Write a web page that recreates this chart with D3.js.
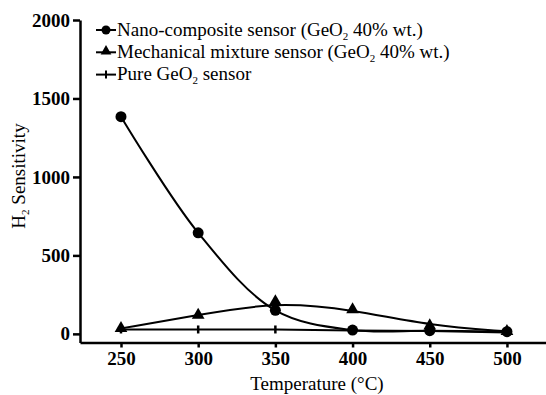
<!DOCTYPE html>
<html>
<head>
<meta charset="utf-8">
<script src="https://cdn.jsdelivr.net/npm/d3@7"></script>
<style>
  body { margin: 0; background: #fff; }
  svg { display: block; }
  .axis path, .axis line { stroke: #000; stroke-width: 2.5; }
  .axis text { font-family: "Liberation Serif", "Times New Roman", serif; font-weight: bold; font-size: 19px; fill: #000; }
  .lbl { font-family: "Liberation Serif", "Times New Roman", serif; font-size: 19px; fill: #000; }
</style>
</head>
<body>
<script>
// data
const temps = [250, 300, 350, 400, 450, 500];
const nanoComposite = [1384, 644, 150, 24, 20, 14];
const mechMixture = [35, 120, 205, 155, 52, 16];
const pureGeO2 = [28, 28, 28, 22, 18, 8];
const yTicks = [0, 500, 1000, 1500, 2000];

const width = 546, height = 395;

const svg = d3.select('body').append('svg')
  .attr('width', width)
  .attr('height', height);

// scales (domain a bit wider than data so the axes frame looks like the original)
const x = d3.scaleLinear().domain([223.45, 525.3]).range([80, 546]);
const y = d3.scaleLinear().domain([-55, 2000]).range([342.5, 20]);

// axes
svg.append('g')
  .attr('class', 'axis')
  .attr('transform', 'translate(80,0)')
  .call(d3.axisLeft(y).tickValues(yTicks).tickSize(7).tickSizeOuter(0).tickPadding(3).tickFormat(d3.format('d')));

svg.append('g')
  .attr('class', 'axis')
  .attr('transform', 'translate(0,342.5)')
  .call(d3.axisBottom(x).tickValues(temps).tickSize(5).tickSizeOuter(0).tickPadding(4).tickFormat(d3.format('d')));

// axis titles
svg.append('text')
  .attr('class', 'lbl')
  .attr('x', 317).attr('y', 390)
  .attr('text-anchor', 'middle')
  .text('Temperature (°C)');

const yt = svg.append('text')
  .attr('class', 'lbl')
  .attr('transform', 'translate(25,176) rotate(-90)')
  .attr('text-anchor', 'middle');
yt.append('tspan').text('H');
yt.append('tspan').attr('font-size', 11).attr('dy', 4).text('2');
yt.append('tspan').attr('dy', -4).text(' Sensitivity');

// lines
const pts = arr => arr.map((v, i) => [temps[i], v]);
const lineMaker = curve => d3.line().x(d => x(d[0])).y(d => y(d[1])).curve(curve);

svg.append('path')
  .datum(pts(pureGeO2))
  .attr('d', lineMaker(d3.curveLinear))
  .attr('fill', 'none').attr('stroke', '#000').attr('stroke-width', 2);

svg.append('path')
  .datum(pts(mechMixture))
  .attr('d', lineMaker(d3.curveBasis))
  .attr('fill', 'none').attr('stroke', '#000').attr('stroke-width', 2);

svg.append('path')
  .datum(pts(nanoComposite))
  .attr('d', lineMaker(d3.curveCatmullRom.alpha(0.5)))
  .attr('fill', 'none').attr('stroke', '#000').attr('stroke-width', 2);

// markers
const tri = d3.symbol().type(d3.symbolTriangle);

svg.selectAll('line.plus')
  .data(pts(pureGeO2))
  .enter().append('line')
  .attr('class', 'plus')
  .attr('x1', d => x(d[0])).attr('x2', d => x(d[0]))
  .attr('y1', d => y(d[1]) - 4).attr('y2', d => y(d[1]) + 4)
  .attr('stroke', '#000').attr('stroke-width', 2.5);

svg.selectAll('path.tri')
  .data(pts(mechMixture))
  .enter().append('path')
  .attr('class', 'tri')
  .attr('transform', d => `translate(${x(d[0])},${y(d[1])})`)
  .attr('d', tri.size(70)());

svg.selectAll('circle.dot')
  .data(pts(nanoComposite))
  .enter().append('circle')
  .attr('class', 'dot')
  .attr('cx', d => x(d[0])).attr('cy', d => y(d[1]))
  .attr('r', 5.5);

// legend
const legend = [
  {name: 'Nano-composite sensor (GeO', tail: ' 40% wt.)', mark: 'circle'},
  {name: 'Mechanical mixture sensor (GeO', tail: ' 40% wt.)', mark: 'tri'},
  {name: 'Pure GeO', tail: ' sensor', mark: 'plus'}
];

legend.forEach((d, i) => {
  const cy = 30 + i * 22.3;
  const g = svg.append('g').attr('transform', `translate(0,${cy})`);
  g.append('line').attr('x1', 96).attr('x2', 116).attr('y1', 0).attr('y2', 0)
    .attr('stroke', '#000').attr('stroke-width', 2);
  if (d.mark == 'circle') {
    g.append('circle').attr('cx', 106).attr('cy', 0).attr('r', 4.5);
  } else if (d.mark == 'tri') {
    g.append('path').attr('transform', 'translate(106,-1)').attr('d', tri.size(50)());
  } else {
    g.append('line').attr('x1', 106).attr('x2', 106).attr('y1', -4).attr('y2', 4)
      .attr('stroke', '#000').attr('stroke-width', 2);
  }
  const t = g.append('text').attr('class', 'lbl').attr('x', 117).attr('y', 5.5);
  t.append('tspan').text(d.name);
  t.append('tspan').attr('font-size', 11).attr('dy', 4).text('2');
  t.append('tspan').attr('dy', -4).text(d.tail);
});
</script>
</body>
</html>
